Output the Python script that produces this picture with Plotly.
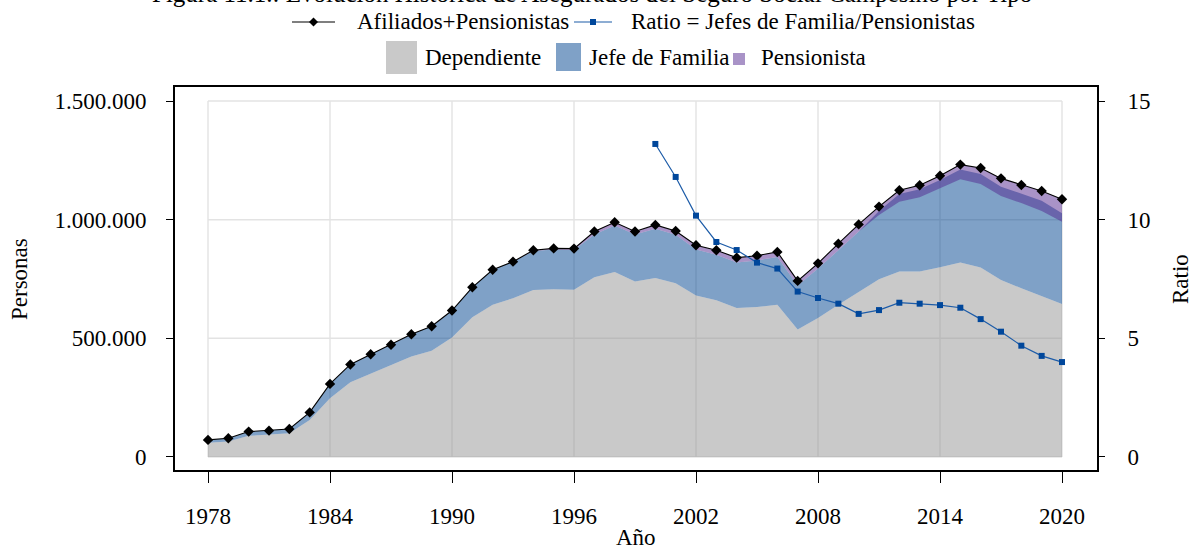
import plotly.graph_objects as go

# ---- datos: Seguro Social Campesino, asegurados por tipo (personas) ----
anios = list(range(1978, 2021))

afiliados_pensionistas = [
    72000, 79000, 107000, 111000, 118000, 188000, 308000, 390000, 433000, 473000,
    517000, 551000, 617000, 715000, 789000, 823000, 871000, 879000, 878000, 950000,
    989000, 950000, 978000, 952000, 892000, 871000, 840000, 848000, 864000, 742000,
    816000, 899000, 980000, 1055000, 1124000, 1145000, 1185000, 1232000, 1218000, 1174000,
    1146000, 1121000, 1086000,
]

dependiente = [
    60000, 65000, 89000, 93000, 100000, 156000, 247000, 315000, 350000, 385000,
    423000, 448000, 503000, 589000, 641000, 669000, 704000, 707000, 705000, 757000,
    780000, 739000, 754000, 732000, 680000, 660000, 628000, 632000, 642000, 537000,
    586000, 641000, 694000, 749000, 782000, 782000, 799000, 819000, 798000, 746000,
    711000, 678000, 645000,
]

jefe_familia = [
    12000, 14000, 18000, 18000, 18000, 32000, 61000, 75000, 83000, 88000,
    94000, 103000, 114000, 126000, 148000, 154000, 164000, 167000, 167000, 181000,
    195000, 199000, 208000, 204000, 194000, 192000, 192000, 196000, 201000, 186000,
    208000, 230000, 256000, 288000, 326000, 346000, 368000, 392000, 394000, 393000,
    400000, 402000, 382000,
]

pensionista = [
    0, 0, 0, 0, 0, 0, 0, 0, 0, 0,
    0, 0, 0, 0, 0, 0, 3000, 5000, 6000, 12000,
    14000, 12000, 16000, 16000, 18000, 19000, 20000, 20000, 21000, 19000,
    22000, 28000, 30000, 35000, 49000, 51000, 53000, 62000, 68000, 74000,
    76000, 85000, 95000,
]

anios_ratio = list(range(2000, 2021))
ratio = [
    13.19, 11.80, 10.17, 9.06, 8.72, 8.19, 7.94, 6.97, 6.70, 6.46,
    6.03, 6.19, 6.50, 6.46, 6.40, 6.29, 5.81, 5.28, 4.69, 4.26, 4.00,
]

x_ticks = [1978, 1984, 1990, 1996, 2002, 2008, 2014, 2020]
y_ticks = [0, 500000, 1000000, 1500000]
y_ticktext = ["0", "500.000", "1.000.000", "1.500.000"]
y2_ticks = [0, 5, 10, 15]

titulo = "Figura 11.1.: Evolución Histórica de Asegurados del Seguro Social Campesino por Tipo"

# ---- estilo ----
FONT = "Liberation Serif"
FS = 23
W, H = 1193, 552
L, R, T, B = 175, 96, 87, 82
PW, PH = W - L - R, H - T - B

GRIS = "rgba(147,147,147,0.5)"
AZUL = "rgba(0,68,143,0.5)"
MORADO = "rgba(84,39,143,0.5)"
AZUL_RATIO = "#1d5ca8"
AZUL_MARCA = "#00479b"

X_RANGE = [1976.377, 2021.721]
Y_RANGE = [-54800, 1559000]
Y2_RANGE = [-0.548, 15.59]


def fx(p):
    return (p - L) / PW


def fy(p):
    return (H - B - p) / PH


jefe_top = [d + j for d, j in zip(dependiente, jefe_familia)]
pens_base = [t - p for t, p in zip(afiliados_pensionistas, pensionista)]

fig = go.Figure()

fig.add_trace(go.Scatter(
    x=anios, y=dependiente, mode="lines", line=dict(width=0),
    fill="tozeroy", fillcolor=GRIS, name="Dependiente", hoverinfo="skip",
))
fig.add_trace(go.Scatter(
    x=anios, y=jefe_top, mode="lines", line=dict(width=0),
    fill="tonexty", fillcolor=AZUL, name="Jefe de Familia", hoverinfo="skip",
))
fig.add_trace(go.Scatter(
    x=anios, y=pens_base, mode="lines", line=dict(width=0),
    hoverinfo="skip", showlegend=False,
))
fig.add_trace(go.Scatter(
    x=anios, y=afiliados_pensionistas, mode="lines", line=dict(width=0),
    fill="tonexty", fillcolor=MORADO, name="Pensionista", hoverinfo="skip",
))
fig.add_trace(go.Scatter(
    x=anios, y=afiliados_pensionistas, mode="lines+markers",
    line=dict(color="black", width=1.1),
    marker=dict(symbol="diamond", size=8, color="black"),
    name="Afiliados+Pensionistas",
))
fig.add_trace(go.Scatter(
    x=anios_ratio, y=ratio, mode="lines+markers", yaxis="y2",
    line=dict(color=AZUL_RATIO, width=1.2),
    marker=dict(symbol="square", size=6, color=AZUL_MARCA),
    name="Ratio = Jefes de Familia/Pensionistas",
))

shapes = []
# cuadrícula limitada al rango de los datos
for xv in x_ticks:
    shapes.append(dict(type="line", xref="x", yref="y", x0=xv, x1=xv,
                       y0=y_ticks[0], y1=y_ticks[-1], layer="below",
                       line=dict(color="#dedede", width=1.2)))
for yv in y_ticks:
    shapes.append(dict(type="line", xref="x", yref="y", x0=x_ticks[0], x1=x_ticks[-1],
                       y0=yv, y1=yv, layer="below",
                       line=dict(color="#e3e3e3", width=1.5)))

# leyenda
def rect(x0, y0, x1, y1, color):
    return dict(type="rect", xref="paper", yref="paper",
                x0=fx(x0), x1=fx(x1), y0=fy(y1), y1=fy(y0),
                fillcolor=color, line=dict(width=0))


def seg(x0, x1, yv, color, width):
    return dict(type="line", xref="paper", yref="paper",
                x0=fx(x0), x1=fx(x1), y0=fy(yv), y1=fy(yv),
                line=dict(color=color, width=width))


def diamante(cx, cy, r, color):
    path = "M {} {} L {} {} L {} {} L {} {} Z".format(
        fx(cx - r), fy(cy), fx(cx), fy(cy - r), fx(cx + r), fy(cy), fx(cx), fy(cy + r))
    return dict(type="path", xref="paper", yref="paper", path=path,
                fillcolor=color, line=dict(width=0))


shapes += [
    seg(292, 335, 22, "black", 1.1),
    diamante(313.5, 22, 4.5, "black"),
    seg(574, 612, 22, AZUL_RATIO, 1.2),
    rect(590, 19, 596, 25, AZUL_MARCA),
    rect(386, 41, 417, 74, "#c9c9c9"),
    rect(556, 43, 581, 71, "#7fa1c7"),
    rect(733, 53, 745, 65, "#a993c7"),
]

annotations = []


def texto(t, xp, yp, xanchor="left", angle=0, size=FS):
    annotations.append(dict(
        text=t, xref="paper", yref="paper", x=fx(xp), y=fy(yp),
        xanchor=xanchor, yanchor="middle", showarrow=False, textangle=angle,
        font=dict(family=FONT, size=size, color="black"),
    ))


texto("Afiliados+Pensionistas", 355, 22)
texto("Ratio = Jefes de Familia/Pensionistas", 629, 22)
texto("Dependiente", 423, 58)
texto("Jefe de Familia", 587, 58)
texto("Pensionista", 759, 58)
texto(titulo, 592, -7, xanchor="center", size=25)
texto("Personas", 19, 279, xanchor="center", angle=-90)
texto("Ratio", 1180, 279, xanchor="center", angle=-90)
texto("Año", 636, 537, xanchor="center")

fig.update_layout(
    width=W, height=H,
    margin=dict(l=L, r=R, t=T, b=B, pad=0),
    paper_bgcolor="white", plot_bgcolor="white",
    showlegend=False,
    font=dict(family=FONT, size=FS, color="black"),
    shapes=shapes, annotations=annotations,
    xaxis=dict(
        range=X_RANGE, tickvals=x_ticks, showgrid=False, zeroline=False,
        showline=True, mirror=True, linecolor="black", linewidth=2,
        ticks="outside", ticklen=11, tickwidth=1.2, tickcolor="black",
        ticklabelstandoff=13,
    ),
    yaxis=dict(
        range=Y_RANGE, tickvals=y_ticks, ticktext=y_ticktext, showgrid=False,
        zeroline=False, showline=True, mirror=True, linecolor="black", linewidth=2,
        ticks="outside", ticklen=7, tickwidth=1.2, tickcolor="black",
        ticklabelstandoff=15,
    ),
    yaxis2=dict(
        range=Y2_RANGE, tickvals=y2_ticks, overlaying="y", side="right",
        showgrid=False, zeroline=False, showline=False,
        ticks="outside", ticklen=7, tickwidth=1.2, tickcolor="black",
        ticklabelstandoff=18,
    ),
)

fig.write_html("out.html")
